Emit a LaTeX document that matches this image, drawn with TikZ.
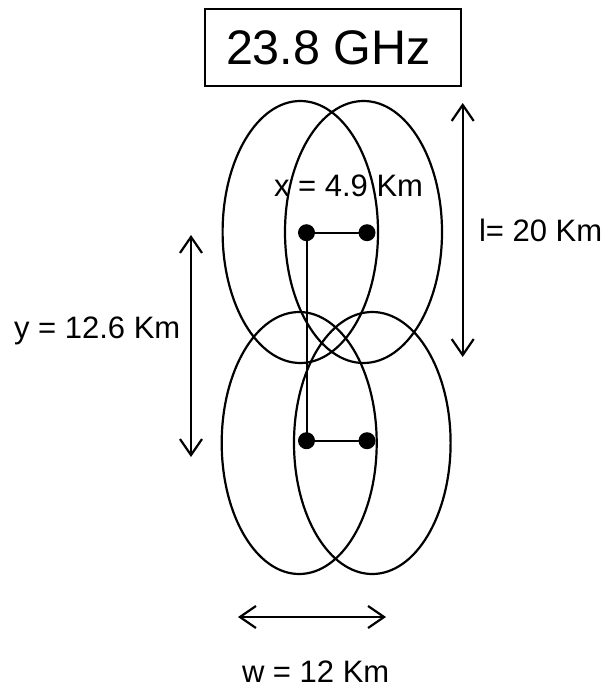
\documentclass[tikz,border=0pt]{standalone}
\usepackage{fontspec}
\setmainfont{Liberation Sans}
\usetikzlibrary{arrows.meta}
\begin{document}
\begin{tikzpicture}[x=1pt,y=-1pt,
  line width=2pt,
  lobe/.style={draw,line width=2.2pt},
  dot/.style={circle,fill=black,inner sep=0pt,minimum size=17pt},
  lbl/.style={anchor=base west,inner sep=0pt,font=\fontsize{31}{31}\selectfont},
  dim/.style={line width=2.2pt,{Straight Barb[length=16pt,width=22pt,line width=2.2pt]}-{Straight Barb[length=16pt,width=22pt,line width=2.2pt]}}]
\useasboundingbox (0,0) rectangle (606,685);
% title
\node[draw,line width=1.6pt,minimum width=256pt,minimum height=77pt,inner sep=0pt] (titlebox) at (333,47.5) {};
\node[anchor=base west,inner sep=0pt,font=\fontsize{48.5}{48.5}\selectfont] (title) at (225,65) {23.8 GHz};
% ellipses
\coordinate (tl) at (300.3,232);
\coordinate (tr) at (363.5,232);
\coordinate (bl) at (299.2,443);
\coordinate (br) at (372.3,443);
\draw[lobe] (tl) ellipse [x radius=77.7, y radius=131];
\draw[lobe] (tr) ellipse [x radius=78.5, y radius=131];
\draw[lobe] (bl) ellipse [x radius=77.5, y radius=131];
\draw[lobe] (br) ellipse [x radius=78.3, y radius=131];
% dots and links
\node[dot] (d1) at (306.5,232.7) {};
\node[dot] (d2) at (367,232.7) {};
\node[dot] (d3) at (306.5,440.7) {};
\node[dot] (d4) at (367,440.7) {};
\draw (d1.center) -- (d2.center);
\draw (d3.center) -- (d4.center);
\draw (d1.center) -- (d3.center);
% dimension arrows
\coordinate (la) at (462.7,103);
\coordinate (lb) at (462.7,357);
\draw[dim] (la) -- (lb);
\coordinate (ya) at (191,235);
\coordinate (yb) at (191,457);
\draw[dim] (ya) -- (yb);
\coordinate (wa) at (238,617);
\coordinate (wb) at (386,617);
\draw[dim] (wa) -- (wb);
% labels
\node[lbl] (xl) at (273,196) {x = 4.9 Km};
\node[lbl] (ll) at (478,241.7) {l= 20 Km};
\node[lbl] (yl) at (13,338) {y = 12.6 Km};
\node[lbl] (wl) at (241,682) {w = 12 Km};
\end{tikzpicture}
\end{document}
